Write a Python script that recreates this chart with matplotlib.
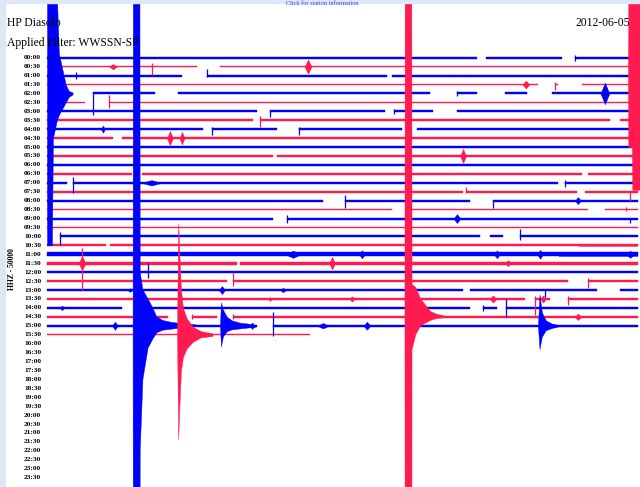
import matplotlib.pyplot as plt
from matplotlib.patches import Rectangle

# colori delle tracce (righe pari blu, dispari rosse)
BLUE = '#0000ff'
RED = '#ff1a50'

# etichette orarie delle 48 righe (30 minuti per riga)
row_labels = [f'{h:02d}:{m:02d}' for h in range(24) for m in (0, 30)]

# tratti registrati per riga: (inizio, fine) in minuti
segments = [
    [(0, 21.83), (22.28, 26.14), (26.80, 30)],
    [(0, 7.61), (8.78, 30)],
    [(0, 6.85), (8.12, 17.26), (17.51, 30)],
    [(0, 24.92), (25.79, 25.94), (27.16, 30)],
    [(2.34, 5.48), (6.65, 19.44), (20.81, 21.83), (23.25, 24.37), (25.63, 30)],
    [(0, 1.93), (3.15, 30)],
    [(0, 10.66), (11.32, 17.16), (17.61, 19.59), (20.81, 30)],
    [(0, 10.46), (10.81, 28.58), (29.09, 30)],
    [(0, 7.92), (8.38, 11.68), (12.79, 18.02), (18.78, 30)],
    [(0, 3.35), (3.81, 30)],
    [(0, 30)],
    [(0, 11.47), (11.68, 30)],
    [(0, 30)],
    [(0, 4.31), (4.82, 27.16), (27.46, 30)],
    [(0, 1.02), (1.32, 25.94), (26.29, 30)],
    [(0, 21.12), (21.27, 26.90), (27.31, 30)],
    [(0, 14.01), (15.13, 21.47), (22.64, 30)],
    [(0, 17.51), (18.43, 27.46), (28.32, 30)],
    [(0, 11.47), (12.18, 30)],
    [(0, 30)],
    [(0.66, 21.98), (22.49, 23.15), (24.01, 30)],
    [(0, 3.0), (3.2, 30)],
    [(0, 30)],
    [(0, 9.64), (9.80, 30)],
    [(0, 30)],
    [(0, 9.14), (9.44, 26.45), (27.46, 30)],
    [(0, 21.12), (21.47, 27.92), (29.09, 30)],
    [(0, 24.26), (24.77, 25.53), (26.45, 30)],
    [(0, 3.81), (5.13, 21.47), (22.13, 22.84), (23.30, 30)],
    [(0, 6.14), (7.36, 8.63), (9.44, 30)],
    [(0, 10.66), (11.47, 30)],
    [(0, 13.35)],
]

# ampiezza del rumore di fondo per riga (in righe)
noise = [0.11, 0.09, 0.11, 0.09, 0.11, 0.09, 0.11, 0.09,
         0.11, 0.09, 0.12, 0.09, 0.12, 0.09, 0.11, 0.09,
         0.11, 0.09, 0.11, 0.09, 0.11, 0.10, 0.20, 0.18,
         0.11, 0.09, 0.12, 0.09, 0.11, 0.09, 0.12, 0.09]

# tratti piu' rumorosi: (riga, inizio, fine, ampiezza)
noisy = [(21, 27.0, 30, 0.18), (22, 26.0, 30, 0.26)]

# piccoli eventi: (riga, minuto, ampiezza, durata)
bursts = [
    (1, 3.35, 0.3, 0.4), (1, 13.25, 0.8, 0.35), (3, 24.31, 0.45, 0.35),
    (4, 28.32, 1.2, 0.45), (8, 2.84, 0.4, 0.2), (9, 6.24, 0.8, 0.3),
    (9, 6.85, 0.7, 0.25), (11, 21.12, 0.8, 0.3), (14, 5.3, 0.3, 1.0),
    (16, 26.95, 0.4, 0.3), (18, 20.81, 0.5, 0.35),
    (22, 15.99, 0.45, 0.3), (22, 22.84, 0.45, 0.3), (22, 25.03, 0.5, 0.3),
    (22, 12.49, 0.4, 0.8), (22, 29.6, 0.4, 0.4),
    (23, 1.78, 0.8, 0.35), (23, 14.47, 0.7, 0.3), (23, 23.40, 0.35, 0.3),
    (26, 4.21, 0.2, 0.25), (26, 8.88, 0.45, 0.3), (26, 11.98, 0.25, 0.3),
    (27, 11.32, 0.2, 0.25), (27, 15.48, 0.3, 0.25), (27, 22.64, 0.4, 0.35),
    (27, 25.18, 0.4, 0.3), (28, 0.76, 0.25, 0.25), (29, 26.95, 0.35, 0.35),
    (30, 3.45, 0.45, 0.3), (30, 10.41, 0.35, 0.3), (30, 14.01, 0.3, 0.6),
    (30, 16.24, 0.45, 0.35),
]

# gradini verticali: (riga, minuto, su, giu')
steps = [
    (0, 26.80, 0.3, 0.4), (1, 5.33, 0.4, 0.9), (2, 1.47, 0.4, 0.4),
    (2, 8.12, 0.7, 0.2), (3, 25.79, 0.3, 0.6), (4, 2.34, 0.2, 2.4),
    (4, 20.81, 0.3, 0.3), (5, 3.15, 0.8, 0.6), (6, 11.32, 0.2, 0.6),
    (6, 17.61, 0.3, 0.3), (7, 10.81, 0.5, 0.8), (8, 8.38, 0.2, 0.7),
    (8, 12.79, 0.2, 0.6), (14, 1.32, 0.6, 1.1), (14, 26.29, 0.3, 0.5),
    (15, 21.27, 0.5, 0.1), (15, 29.59, 0.1, 1.0), (16, 15.13, 0.6, 0.8),
    (16, 22.64, 0.1, 0.8), (17, 29.4, 0.3, 0.2), (18, 12.18, 0.4, 0.5),
    (18, 29.59, 0.1, 0.5), (20, 0.66, 0.5, 1.0), (20, 24.01, 0.8, 0.4),
    (23, 1.78, 1.7, 3.0), (24, 5.13, 1.0, 0.7), (25, 9.44, 0.9, 0.6),
    (25, 27.46, 0.4, 0.8), (26, 25.28, 0.1, 0.8), (27, 24.77, 0.3, 1.8),
    (27, 26.45, 0.3, 0.7), (28, 22.13, 0.3, 0.3), (28, 23.30, 1.0, 1.0),
    (29, 7.36, 0.3, 0.3), (29, 9.44, 0.3, 0.3), (30, 11.47, 1.5, 1.2),
]

# terremoti: inviluppo (tempo dall'inizio, ampiezza su, ampiezza giu')
quake_a_t = [0, 0.02, 0.34, 0.36, 0.5, 0.76, 1.0, 1.2, 1.5, 1.9, 2.4, 3.2]
quake_a_up = [0, 60, 60, 6, 4, 3, 2, 1, 0.6, 0.4, 0.25, 0.1]
quake_a_down = [0, 60, 60, 14, 6, 2.5, 1.5, 0.8, 0.5, 0.4, 0.25, 0.1]

quake_b_t = [0, 0.02, 0.34, 0.36, 0.55, 0.8, 1.3, 1.6, 2.0]
quake_b_up = [0, 60, 60, 3.6, 3.3, 2.0, 0.6, 0.3, 0.1]
quake_b_down = [0, 60, 60, 3.7, 2.0, 1.0, 0.4, 0.2, 0.1]

quake_c_t = [0, 0.06, 0.12, 0.2, 0.3, 0.5, 0.8, 1.2, 1.8]
quake_c_up = [0, 12.5, 9, 5, 3, 1.8, 0.9, 0.4, 0.15]
quake_c_down = [0, 11.7, 8, 4, 2.5, 1.5, 0.8, 0.3, 0.15]

quake_d_t = [0, 0.05, 0.15, 0.35, 0.6, 1.0, 1.4, 1.8]
quake_d_up = [0, 2.6, 1.8, 1.0, 0.6, 0.35, 0.25, 0.1]
quake_d_down = [0, 2.3, 1.2, 0.6, 0.4, 0.3, 0.2, 0.1]

quake_e_t = [0, 0.08, 0.2, 0.4, 0.7, 1.0]
quake_e_up = [0, 3.5, 1.5, 0.6, 0.25, 0.1]
quake_e_down = [0, 2.6, 1.2, 0.5, 0.25, 0.1]

quake_f_t = [0, 0.25, 0.3, 0.5, 0.6, 0.8, 0.95, 1.1, 1.3]
quake_f_up = [11, 11, 11, 11, 4.5, 2.5, 1.0, 0.3, 0.1]
quake_f_down = [17, 17, 5, 3, 2.4, 1.6, 1.0, 0.4, 0.1]

quake_g_t = [0, 0.02, 0.2, 0.22, 0.6]
quake_g_up = [0, 12, 12, 12, 12]
quake_g_down = [0, 7, 7, 11.8, 11.8]

# (riga, inizio in minuti, tempi, su, giu')
quakes = [
    (30, 4.37, quake_a_t, quake_a_up, quake_a_down),
    (29, 18.17, quake_b_t, quake_b_up, quake_b_down),
    (31, 6.60, quake_c_t, quake_c_up, quake_c_down),
    (30, 8.78, quake_d_t, quake_d_up, quake_d_down),
    (30, 24.92, quake_e_t, quake_e_up, quake_e_down),
    (4, 0.0, quake_f_t, quake_f_up, quake_f_down),
    (3, 29.49, quake_g_t, quake_g_up, quake_g_down),
]


def row_color(r):
    return BLUE if r % 2 == 0 else RED


plt.rcParams['font.family'] = ['Liberation Serif', 'DejaVu Serif']

fig = plt.figure(figsize=(6.4, 4.87), dpi=100, facecolor='white')
ax = fig.add_axes([0, 0, 1, 1])
ax.set_xlim(-47 / 19.7, 593 / 19.7)
ax.set_ylim(429.3 / 8.935, -57.7 / 8.935)
ax.axis('off')

# bordo della pagina web
fig.patches.append(Rectangle((0, 0), 5 / 640, 1, transform=fig.transFigure,
                             color='#dde7f6', zorder=0))
fig.patches.append(Rectangle((0, 1 - 3 / 487), 1, 3 / 487, transform=fig.transFigure,
                             color='#dde7f6', zorder=0))
fig.text(322 / 640, 1 - 3.5 / 487, 'Click for station information', color='#3333ff',
         fontsize=4.5, ha='center', va='center', zorder=1)

# testi
fig.text(7 / 640, 1 - 26 / 487, 'HP Diasolo', fontsize=8.4, va='baseline', zorder=1)
fig.text(7 / 640, 1 - 46 / 487, 'Applied Filter: WWSSN-SP', fontsize=8.4,
         va='baseline', zorder=1)
fig.text(575 / 640, 1 - 26 / 487, '2012-06-05', fontsize=8.4, va='baseline', zorder=1)
fig.text(12 / 640, 1 - 269 / 487, 'HHZ - 50000', fontsize=5.5, fontweight='bold',
         rotation=90, ha='center', va='center', zorder=1)

for r, lab in enumerate(row_labels):
    ax.text(-0.3, r, lab, fontsize=5.3, fontweight='bold', ha='right', va='center',
            zorder=1)

# tracce
for r, segs in enumerate(segments):
    c = row_color(r)
    a = noise[r]
    for s, e in segs:
        ax.fill_between([s, e], [r - a, r - a], [r + a, r + a], color=c, lw=0.3,
                        zorder=2)

for r, s, e, a in noisy:
    ax.fill_between([s, e], [r - a, r - a], [r + a, r + a], color=row_color(r),
                    lw=0, alpha=0.6, zorder=2)

for r, m, up, down in steps:
    ax.vlines(m, r - up, r + down, color=row_color(r), lw=0.9, zorder=2)

for r, m, a, d in bursts:
    ax.fill_between([m - d / 2, m, m + d / 2], [r, r - a, r], [r, r + a, r],
                    color=row_color(r), lw=0.3, zorder=3)

for r, t0, t, up, down in quakes:
    x = [t0 + v for v in t]
    ax.fill_between(x, [r - u for u in up], [r + d for d in down],
                    color=row_color(r), lw=0.3, zorder=4)

fig.savefig('out.png', dpi=100, facecolor='white')
plt.close(fig)
